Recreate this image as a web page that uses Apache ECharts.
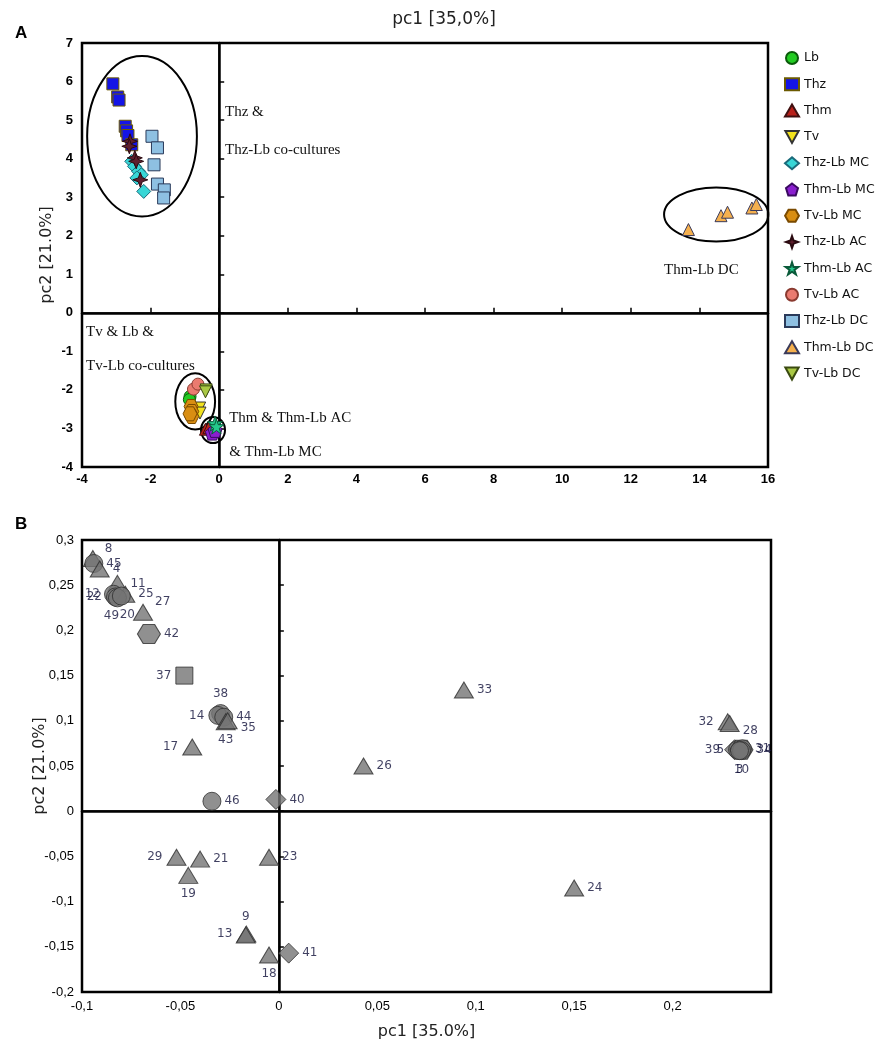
<!DOCTYPE html>
<html><head><meta charset="utf-8">
<script src="https://cdn.jsdelivr.net/npm/echarts@6/dist/echarts.min.js"></script>
<style>html,body{margin:0;padding:0;background:#fff}#c{width:888px;height:1043px}</style>
</head><body><div id="c"></div>
<script>
// ---------- Panel A data (pc1, pc2) ----------
const seriesNamesA = ['Lb','Thz','Thm','Tv','Thz-Lb MC','Thm-Lb MC','Tv-Lb MC','Thz-Lb AC','Thm-Lb AC','Tv-Lb AC','Thz-Lb DC','Thm-Lb DC','Tv-Lb DC'];
const Lb       = [[-0.85,-2.17],[-0.87,-2.25]];
const Thz      = [[-3.1,5.94],[-2.96,5.6],[-2.92,5.52],[-2.74,4.84],[-2.7,4.72],[-2.66,4.6],[-2.55,4.36]];
const Thm      = [[-0.4,-3.02],[-0.3,-2.98]];
const Tv       = [[-0.57,-2.47],[-0.56,-2.6]];
const ThzLbMC  = [[-2.55,3.93],[-2.47,3.8],[-2.35,3.67],[-2.27,3.58],[-2.4,3.5],[-2.2,3.15]];
const ThmLbMC  = [[-0.2,-3.12],[-0.12,-3.05]];
const TvLbMC   = [[-0.82,-2.43],[-0.8,-2.56],[-0.8,-2.69],[-0.85,-2.62]];
const ThzLbAC  = [[-2.6,4.45],[-2.62,4.32],[-2.46,4.02],[-2.42,3.93],[-2.3,3.45]];
const ThmLbAC  = [[-0.12,-2.87],[-0.08,-2.95]];
const TvLbAC   = [[-0.75,-1.98],[-0.62,-1.85]];
const ThzLbDC  = [[-1.96,4.58],[-1.8,4.28],[-1.9,3.84],[-1.8,3.34],[-1.6,3.19],[-1.62,2.98]];
const ThmLbDC  = [[13.68,2.16],[14.63,2.52],[14.82,2.61],[15.53,2.72],[15.66,2.81]];
const TvLbDC   = [[-0.38,-2.0],[-0.4,-2.05]];
const dataA = [Lb,Thz,Thm,Tv,ThzLbMC,ThmLbMC,TvLbMC,ThzLbAC,ThmLbAC,TvLbAC,ThzLbDC,ThmLbDC,TvLbDC];
// ellipses: [cx, cy, rx, ry] in data units
const ellipsesA = [[-2.25,4.58,1.6,2.08],[14.49,2.55,1.52,0.70],[-0.70,-2.30,0.58,0.73],[-0.18,-3.04,0.35,0.34]];
// annotations: [x, y, text]
const notesA = [[0.17,5.22,'Thz &'],[0.17,4.23,'Thz-Lb co-cultures'],[-3.88,-0.49,'Tv & Lb &'],[-3.88,-1.38,'Tv-Lb co-cultures'],[0.29,-2.73,'Thm & Thm-Lb AC'],[0.29,-3.61,'& Thm-Lb MC'],[12.97,1.12,'Thm-Lb DC']];
const ticksAx = [-4,-2,0,2,4,6,8,10,12,14,16];
const ticksAy = [-4,-3,-2,-1,0,1,2,3,4,5,6,7];

// ---------- Panel B data (loadings) ----------
const bLabel = ['8','45','4','11','12','22','25','27','49','20','42','37','38','14','44','43','35','17','46','40','26','33','24','29','21','19','23','13','9','18','41','32','28','39','5','34','31','10','3'];
const bX     = [-0.0945,-0.094,-0.091,-0.082,-0.084,-0.083,-0.078,-0.069,-0.082,-0.080,-0.066,-0.048,-0.0296,-0.031,-0.028,-0.027,-0.026,-0.044,-0.034,-0.0015,0.043,0.094,0.150,-0.052,-0.040,-0.046,-0.005,-0.0165,-0.0168,-0.005,0.005,0.228,0.229,0.2315,0.233,0.235,0.2355,0.235,0.234];
const bY     = [0.2795,0.274,0.268,0.252,0.240,0.237,0.240,0.220,0.236,0.238,0.196,0.150,0.108,0.106,0.104,0.099,0.100,0.071,0.011,0.013,0.050,0.134,-0.085,-0.051,-0.053,-0.071,-0.051,-0.136,-0.137,-0.159,-0.157,0.099,0.097,0.068,0.068,0.068,0.069,0.067,0.067];
const bShape = ['tri','circ','tri','tri','circ','circ','tri','tri','circ','circ','hex','sq','circ','circ','circ','tri','tri','tri','circ','dia','tri','tri','tri','tri','tri','tri','tri','tri','tri','tri','dia','tri','tri','dia','circ','hex','circ','circ','circ'];
// label placement (style)
const bSide  = ['tr','r','r','r','l','l','r','tr','b1','b2','r','l','t','l','r','b','r2','l','r','r','r','r','r','l','r','b','r','l','t','b','r','l','r2','l','l','r','r','b','b'];
const ticksBx = [-0.1,-0.05,0,0.05,0.1,0.15,0.2];
const ticksBy = [-0.2,-0.15,-0.1,-0.05,0,0.05,0.1,0.15,0.2,0.25,0.3];

// ---------- styles ----------
const P = {
  tdown: 'path://M0,0 L10,0 L5,9 Z',
  pent: 'path://M5,0 L10,3.8 L8.1,10 L1.9,10 L0,3.8 Z',
  hex: 'path://M2.5,0 L7.5,0 L10,4.33 L7.5,8.66 L2.5,8.66 L0,4.33 Z',
  star4: 'path://M5,0 L6.3,3.7 L10,5 L6.3,6.3 L5,10 L3.7,6.3 L0,5 L3.7,3.7 Z',
  star5: 'path://M5,0 L6.2,3.6 L10,3.6 L6.9,5.9 L8.1,9.5 L5,7.3 L1.9,9.5 L3.1,5.9 L0,3.6 L3.8,3.6 Z'
};
const symA = ['circle','rect','triangle',P.tdown,'diamond',P.pent,P.hex,P.star4,P.star5,'circle','rect','triangle',P.tdown];
const sizeA = [12,12,12,12,14,14,14,15,15,12,12,12,12];
const colA = ['#22cc22','#1414e6','#b8201a','#f2e21e','#38d6d6','#8a1fcf','#d98e12','#5e1f2e','#24c98c','#ea7b70','#8ec0e2','#f5b04e','#a9c844'];
const borderA = ['#0a5a0a','#6b5a00','#401010','#333','#1a6a7a','#3a0a60','#7a4a00','#2a0a10','#0a5a3a','#8a3a30','#2a3a5a','#3a3a5a','#3a4a10'];
const shapeMapB = {tri:'triangle',circ:'circle',hex:P.hex,sq:'rect',dia:'diamond'};
const sizeMapB = {tri:[19,16],circ:18,hex:[23,19],sq:17,dia:[20,20]};
const sideMap = {
  r:{position:'right',distance:3}, l:{position:'left',distance:4}, t:{position:'top',distance:4}, b:{position:'bottom',distance:4},
  tr:{position:'right',distance:2,offset:[0,-10]}, r2:{position:'right',distance:3,offset:[0,7]},
  b1:{position:'bottom',distance:3,offset:[-6,0]}, b2:{position:'bottom',distance:3,offset:[6,0]}
};
const comma = v => String(Math.round(v*1000)/1000).replace('.',',');

const chart = echarts.init(document.getElementById('c'));
const series = [];
seriesNamesA.forEach((n,i)=>{
  series.push({
    name:n, type:'scatter', xAxisIndex:0, yAxisIndex:0, data:dataA[i],
    symbol:symA[i], symbolSize:sizeA[i], z:5,
    itemStyle:{color:colA[i], borderColor:borderA[i], borderWidth:1, opacity:1}
  });
});
series[0].markLine = {silent:true, symbol:['none','none'], label:{show:false}, lineStyle:{color:'#000',width:1.5,type:'solid'}, data:[{xAxis:0},{yAxis:0}], animation:false};
series.push({
  name:'ellipses', type:'custom', xAxisIndex:0, yAxisIndex:0, data:ellipsesA, z:4, silent:true,
  renderItem:(params,api)=>{
    const c = api.coord([api.value(0),api.value(1)]);
    const s = api.size([api.value(2),api.value(3)]);
    return {type:'ellipse', shape:{cx:c[0],cy:c[1],rx:s[0],ry:s[1]}, style:{fill:null,stroke:'#000',lineWidth:2}};
  }
});
series.push({
  name:'notes', type:'custom', xAxisIndex:0, yAxisIndex:0, z:6, silent:true,
  data:notesA.map(d=>({value:[d[0],d[1]], note:d[2]})),
  renderItem:(params,api)=>{
    const c = api.coord([api.value(0),api.value(1)]);
    return {type:'text', x:c[0], y:c[1], style:{text:notesA[params.dataIndex][2], fill:'#111', font:'15px "Liberation Serif"', align:'left', verticalAlign:'middle', textAlign:'left', textVerticalAlign:'middle'}};
  }
});
// panel B
const bData = bLabel.map((l,i)=>{
  const sd = sideMap[bSide[i]];
  return {value:[bX[i],bY[i]], name:l, symbol:shapeMapB[bShape[i]], symbolSize:sizeMapB[bShape[i]],
    label:Object.assign({show:true, formatter:l, color:'#10103a', fontSize:12, fontFamily:'DejaVu Sans'}, sd)};
});
series.push({
  name:'loadings', type:'scatter', xAxisIndex:1, yAxisIndex:1, data:bData, z:5,
  itemStyle:{color:'#747474', borderColor:'#2e2e2e', borderWidth:1},
  markLine:{silent:true, symbol:['none','none'], label:{show:false}, lineStyle:{color:'#000',width:1.5,type:'solid'}, data:[{xAxis:0},{yAxis:0}], animation:false}
});

const axLabA = {color:'#000', fontWeight:'bold', fontSize:13, fontFamily:'Liberation Sans'};
const axLabB = {color:'#000', fontSize:13, fontFamily:'Liberation Sans'};
chart.setOption({
  animation:false,
  title:[
    {text:'pc1 [35,0%]', left:'center', top:6, textStyle:{fontSize:17,fontWeight:'normal',fontFamily:'DejaVu Sans',color:'#222'}},
    {text:'A', left:10, top:20, textStyle:{fontSize:17,fontWeight:'bold',fontFamily:'Liberation Sans',color:'#000'}},
    {text:'B', left:10, top:511, textStyle:{fontSize:17,fontWeight:'bold',fontFamily:'Liberation Sans',color:'#000'}}
  ],
  legend:{
    data:seriesNamesA, orient:'vertical', left:779, top:46, itemWidth:14, itemHeight:12, itemGap:12.3,
    textStyle:{fontSize:12.5, fontFamily:'DejaVu Sans', color:'#111'}
  },
  grid:[
    {left:82, top:43, width:686, height:424, show:true, borderColor:'#000', borderWidth:2.5, containLabel:false},
    {left:82, top:540, width:689, height:452, show:true, borderColor:'#000', borderWidth:2.5, containLabel:false}
  ],
  xAxis:[
    {gridIndex:0, type:'value', min:-4, max:16, interval:2, axisLine:{lineStyle:{color:'#000',width:2.5}}, axisTick:{inside:true,length:5,lineStyle:{color:'#000',width:1.5}}, splitLine:{show:false}, axisLabel:Object.assign({margin:6}, axLabA)},
    {gridIndex:1, type:'value', min:-0.1, max:0.25, interval:0.05, axisLine:{lineStyle:{color:'#000',width:2.5}}, axisTick:{show:false}, splitLine:{show:false},
     axisLabel:Object.assign({margin:8, showMaxLabel:false, formatter:comma}, axLabB),
     name:'pc1 [35.0%]', nameLocation:'middle', nameGap:32, nameMoveOverlap:false, nameTextStyle:{fontSize:16,fontFamily:'DejaVu Sans',color:'#222'}}
  ],
  yAxis:[
    {gridIndex:0, type:'value', min:-4, max:7, interval:1, axisLine:{lineStyle:{color:'#000',width:2.5}}, axisTick:{inside:true,length:5,lineStyle:{color:'#000',width:1.5}}, splitLine:{show:false}, axisLabel:Object.assign({margin:9}, axLabA),
     name:'pc2 [21.0%]', nameLocation:'middle', nameGap:27, nameMoveOverlap:false, nameTextStyle:{fontSize:16,fontFamily:'DejaVu Sans',color:'#222'}},
    {gridIndex:1, type:'value', min:-0.2, max:0.3, interval:0.05, axisLine:{lineStyle:{color:'#000',width:2.5}}, axisTick:{inside:true,length:5,lineStyle:{color:'#000',width:1.5}}, splitLine:{show:false},
     axisLabel:Object.assign({margin:8, formatter:comma}, axLabB),
     name:'pc2 [21.0%]', nameLocation:'middle', nameGap:34, nameMoveOverlap:false, nameTextStyle:{fontSize:16,fontFamily:'DejaVu Sans',color:'#222'}}
  ],
  series:series
});
</script></body></html>
